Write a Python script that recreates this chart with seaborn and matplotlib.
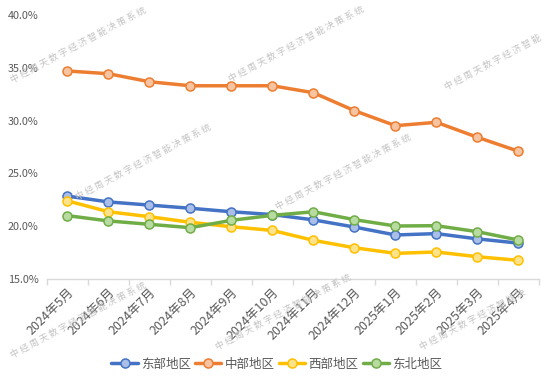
import numpy as np
import pandas as pd
import matplotlib
matplotlib.use("Agg")
import matplotlib.pyplot as plt
import seaborn as sns
from matplotlib.ticker import FuncFormatter

sns.set_style("white")
plt.rcParams['font.family'] = ['Noto Sans CJK SC', 'DejaVu Sans']

months = ['2024年5月', '2024年6月', '2024年7月', '2024年8月', '2024年9月', '2024年10月',
          '2024年11月', '2024年12月', '2025年1月', '2025年2月', '2025年3月', '2025年4月']
east = [22.85, 22.3, 22.0, 21.7, 21.37, 21.1, 20.6, 19.92, 19.17, 19.3, 18.8, 18.4]
central = [34.7, 34.44, 33.68, 33.3, 33.3, 33.3, 32.64, 30.94, 29.52, 29.84, 28.42, 27.1]
west = [22.4, 21.37, 20.9, 20.37, 19.95, 19.6, 18.66, 17.96, 17.43, 17.56, 17.11, 16.77]
northeast = [21.0, 20.5, 20.18, 19.86, 20.56, 21.03, 21.37, 20.62, 20.02, 20.05, 19.48, 18.69]

series = {'东部地区': east, '中部地区': central, '西部地区': west, '东北地区': northeast}
line_colors = {'东部地区': '#4472C4', '中部地区': '#ED7D31', '西部地区': '#FFC000', '东北地区': '#70AD47'}
fill_colors = {'东部地区': '#A9BFE8', '中部地区': '#F6C4A0', '西部地区': '#FFE28A', '东北地区': '#B8DBA2'}

fig = plt.figure(figsize=(5.54, 3.83), dpi=100)
ax = fig.add_axes([0.0848, 0.2715, 0.888, 0.6893])

for name, vals in series.items():
    df = pd.DataFrame({'x': np.arange(len(months)), 'y': vals})
    sns.lineplot(data=df, x='x', y='y', ax=ax, color=line_colors[name], linewidth=2.5,
                 marker='o', markersize=6.5, markerfacecolor=fill_colors[name],
                 markeredgecolor=line_colors[name], markeredgewidth=1.1, label=name)

ax.set_xlim(-0.5, len(months) - 0.5)
ax.set_ylim(15, 40)
ax.set_yticks([15, 20, 25, 30, 35, 40])
ax.yaxis.set_major_formatter(FuncFormatter(lambda v, p: f'{v:.1f}%'))
ax.set_xticks(np.arange(len(months)))
ax.set_xticklabels(months, rotation=45, ha='right', rotation_mode='anchor')
ax.set_xticks(np.arange(len(months) + 1) - 0.5, minor=True)
ax.tick_params(axis='x', which='major', length=0, labelsize=9, colors='#595959', pad=5)
ax.tick_params(axis='x', which='minor', length=4, color='#D9D9D9', width=1, direction='out', bottom=True)
ax.tick_params(axis='y', length=0, labelsize=7.8, colors='#595959', pad=6)
ax.set_xlabel('')
ax.set_ylabel('')
for s in ['top', 'right', 'left']:
    ax.spines[s].set_visible(False)
ax.spines['bottom'].set_color('#D9D9D9')
ax.spines['bottom'].set_linewidth(1)

ax.legend(loc='upper center', bbox_to_anchor=(0.467, -0.255), ncol=4, frameon=False,
          fontsize=9, handlelength=2.1, columnspacing=0.35, handletextpad=0.25,
          labelcolor='#595959')

# watermark (start points in pixels, some cut by the right edge in the original)
wm = '中经周天数字经济智能决策系统'
marks = [(12, 83, wm), (230, 82, wm), (447, 90, wm[:10]),
         (77, 200, wm), (277, 210, wm),
         (12, 358, wm), (217, 350, wm), (422, 350, wm[:11])]
for (px, py, txt) in marks:
    fig.text(px / 554, 1 - py / 383, ' '.join(txt), rotation=28, rotation_mode='anchor',
             color='#C4C4C4', fontsize=6.5, ha='left', va='baseline', zorder=0)

fig.savefig('out.png', dpi=100)
